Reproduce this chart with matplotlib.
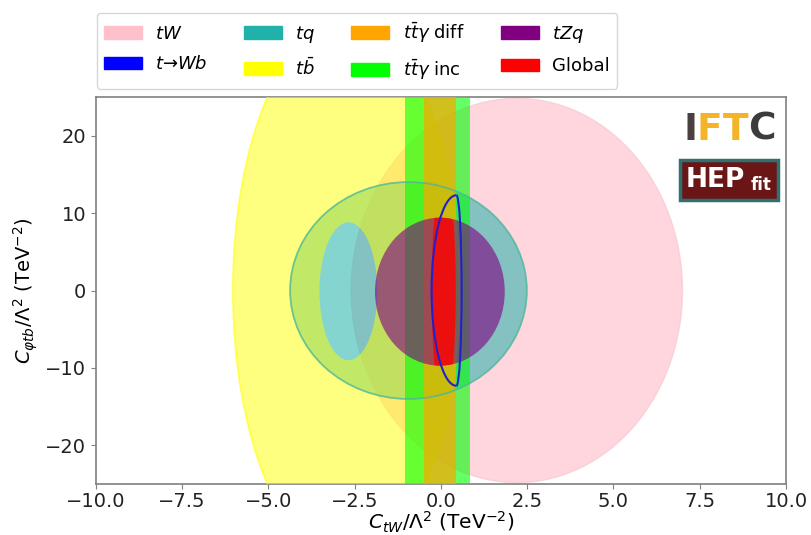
import numpy as np
import matplotlib
matplotlib.use('Agg')
import matplotlib.pyplot as plt
from matplotlib.patches import Ellipse, Arc, PathPatch, Patch, Rectangle
from matplotlib.path import Path

plt.rcParams.update({
    'font.family': 'DejaVu Sans',
    'mathtext.fontset': 'dejavusans',
    'font.size': 14,
    'axes.labelsize': 14,
    'xtick.labelsize': 14,
    'ytick.labelsize': 14,
    'legend.fontsize': 13,
})

# allowed regions as (centre x, centre y, semi-axis x, semi-axis y)
tw_region = (2.2, 0.0, 4.8, 24.8)
tb_region = (-2.74, 0.0, 3.29, 34.8)
tb_hole = (-2.68, -0.1, 0.84, 8.9)
tq_region = (-0.94, 0.0, 3.43, 14.0)
tzq_region = (-0.03, -0.15, 1.88, 9.55)
global_region = (0.08, 0.0, 0.35, 15.0)
# t->Wb ring: centre x, centre y, left semi-axis, right semi-axis, semi-axis y
wb_ring = (0.45, 0.0, 0.72, 0.15, 12.3)
# ttgamma bands (x limits)
ttg_inc = (-1.04, 0.84)
ttg_diff = (-0.49, 0.43)

labels = [r'$tW$', r'$t$→$Wb$', r'$tq$', r'$t\bar{b}$',
          r'$t\bar{t}\gamma$ diff', r'$t\bar{t}\gamma$ inc', r'$tZq$', 'Global']
colors = ['pink', 'blue', 'lightseagreen', 'yellow',
          'orange', 'lime', 'purple', 'red']


def ellipse_path(cx, cy, a, b, reverse=False):
    circ = Path.unit_circle()
    verts = circ.vertices * [a, b] + [cx, cy]
    if reverse:
        verts = np.vstack([verts[:-1][::-1], verts[-1:]])
    return Path(verts, circ.codes)


fig = plt.figure(figsize=(8.12, 5.35), dpi=100)
ax = fig.add_axes([0.118, 0.095, 0.850, 0.724])

# tW
cx, cy, a, b = tw_region
ax.add_patch(Ellipse((cx, cy), 2 * a, 2 * b, facecolor='pink', edgecolor='#f4c8d0',
                     lw=1.0, alpha=0.65, zorder=1))

# tq
cx, cy, a, b = tq_region
ax.add_patch(Ellipse((cx, cy), 2 * a, 2 * b, facecolor='lightseagreen', edgecolor='none',
                     alpha=0.55, zorder=2))
ax.add_patch(Ellipse((cx, cy), 2 * a, 2 * b, facecolor='none', edgecolor='#4cb89a',
                     lw=1.3, alpha=0.8, zorder=6))

# tb (with the inner hole)
outer = ellipse_path(*tb_region)
inner = ellipse_path(*tb_hole, reverse=True)
tb_path = Path.make_compound_path(outer, inner)
ax.add_patch(PathPatch(tb_path, facecolor='yellow', edgecolor='none',
                       alpha=0.5, zorder=3))
ax.add_patch(PathPatch(outer, facecolor='none', edgecolor='yellow', lw=1.2,
                       alpha=0.6, zorder=3))

# ttgamma inclusive / differential
ax.axvspan(*ttg_inc, facecolor='lime', alpha=0.6, lw=0, zorder=4)
ax.axvspan(*ttg_diff, facecolor='orange', alpha=0.7, lw=0, zorder=5)

# tZq
cx, cy, a, b = tzq_region
tzq = Ellipse((cx, cy), 2 * a, 2 * b, facecolor='purple', edgecolor='none',
              alpha=0.6, zorder=7)
ax.add_patch(tzq)

# global fit, inside tZq
cx, cy, a, b = global_region
glob = Ellipse((cx, cy), 2 * a, 2 * b, facecolor='red', edgecolor='none',
               alpha=0.8, zorder=8)
ax.add_patch(glob)
glob.set_clip_path(tzq)

# t -> Wb
cx, cy, al, ar, b = wb_ring
ax.add_patch(Arc((cx, cy), 2 * al, 2 * b, theta1=90, theta2=270,
                 color='#2020d0', lw=1.5, zorder=9))
ax.add_patch(Arc((cx, cy), 2 * ar, 2 * b, theta1=-90, theta2=90,
                 color='#2020d0', lw=1.5, zorder=9))

ax.set_xlim(-10, 10)
ax.set_ylim(-25, 25)
ax.set_xticks(np.arange(-10, 10.1, 2.5))
ax.set_yticks([-20, -10, 0, 10, 20])
ax.set_xlabel(r'$C_{tW}/\Lambda^2$ (TeV$^{-2}$)', fontsize=14.5, labelpad=-1)
ax.set_ylabel(r'$C_{\varphi tb}/\Lambda^2$ (TeV$^{-2}$)')
for s in ax.spines.values():
    s.set_color('#808080')
    s.set_linewidth(1.2)
ax.tick_params(colors='#808080', labelcolor='#222222', length=3.5)
ax.tick_params(axis='x', pad=2)

# logos
logo_font = dict(transform=ax.transAxes, fontsize=27, fontweight='bold',
                 va='center', ha='left', zorder=10)
ax.text(0.851, 0.915, 'I', color='#4a4040', **logo_font)
ax.text(0.871, 0.915, 'F', color='#f5b428', **logo_font)
ax.text(0.908, 0.915, 'T', color='#f5b428', **logo_font)
ax.text(0.945, 0.915, 'C', color='#3c3c3c', **logo_font)
ax.add_patch(Rectangle((0.846, 0.734), 0.143, 0.103, transform=ax.transAxes,
                       facecolor='#6b1616', edgecolor='#2f7070', lw=2.5, zorder=10))
ax.text(0.854, 0.786, 'HEP', transform=ax.transAxes, color='white', fontsize=19,
        fontweight='bold', va='center', ha='left', zorder=11)
ax.text(0.948, 0.772, 'fit', transform=ax.transAxes, color='white', fontsize=12,
        fontweight='bold', va='center', ha='left', zorder=11)

handles = [Patch(facecolor=c, edgecolor=c) for c in colors]
fig.legend(handles, labels, loc='upper left', bbox_to_anchor=(0.108, 0.993),
           ncol=4, handlelength=2.1, columnspacing=2.0, handletextpad=0.75,
           labelspacing=0.7, framealpha=0.8)

fig.savefig('out.png', dpi=100)
